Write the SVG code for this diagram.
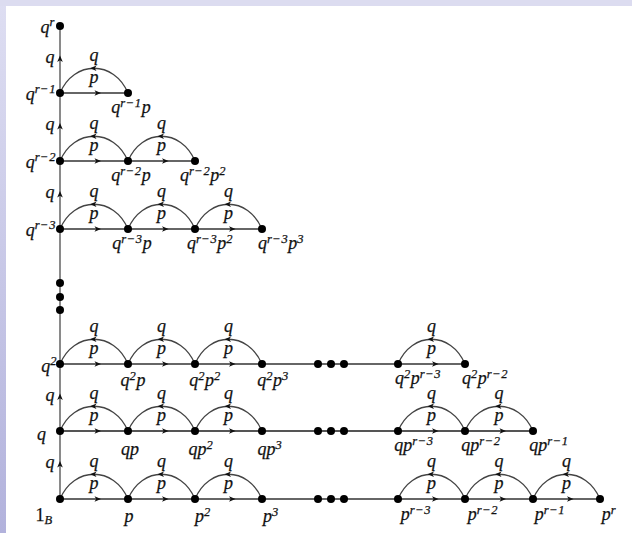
<svg xmlns="http://www.w3.org/2000/svg" width="632" height="533" viewBox="0 0 632 533">
  <defs>
    <linearGradient id="frame" x1="0" y1="0" x2="0" y2="1">
      <stop offset="0" stop-color="#dedef2"/>
      <stop offset="1" stop-color="#b2b2dc"/>
    </linearGradient>
    <!-- small filled arrow head, tip at origin, pointing along +x -->
    <path id="ah" d="M0,0 L-6.5,-2.8 L-4.8,0 L-6.5,2.8 Z" fill="#111"/>
    <style>
      .m { font-family: "Liberation Serif", "DejaVu Serif", serif; font-style: italic; font-size: 18px; fill: #111; stroke: #111; stroke-width: 0.25; }
      .up { font-style: normal; }
      .s { font-size: 12.5px; letter-spacing: 0.6px; }
      .vert { stroke: #8a8a8a; stroke-width: 2; fill: none; }
      .row { stroke: #333; stroke-width: 1.5; fill: none; }
      .row.thick { stroke: #555; stroke-width: 2.2; }
      .row.grey { stroke: #666; stroke-width: 1.9; }
      .arc { stroke: #444; stroke-width: 1.3; fill: none; }
      .dot { fill: #000; }
    </style>
  </defs>

  <!-- page frame -->
  <rect x="0" y="0" width="632" height="533" fill="url(#frame)"/>
  <rect x="0" y="0" width="632" height="6" fill="#dcdcf0"/>
  <rect x="6" y="6" width="626" height="527" fill="#fff"/>

  <g id="connectors">
    <!-- vertical q-axis -->
    <path class="vert" d="M60,26 V499"/>
    <use href="#ah" transform="translate(60,55.5) rotate(-90)"/>
    <use href="#ah" transform="translate(60,123) rotate(-90)"/>
    <use href="#ah" transform="translate(60,191) rotate(-90)"/>
    <use href="#ah" transform="translate(60,393.5) rotate(-90)"/>
    <use href="#ah" transform="translate(60,461) rotate(-90)"/>

    <!-- row q^{r-1} -->
    <path class="row grey" d="M60,93 H128"/>
    <path class="arc" d="M60,93 C74,60 114,60 128,93"/>
    <use href="#ah" transform="translate(101,93)"/>
    <use href="#ah" transform="translate(90,68.2) rotate(180)"/>

    <!-- row q^{r-2} -->
    <path class="row" d="M60,161 H195"/>
    <path class="arc" d="M60,161 C74,128 114,128 128,161 M128,161 C142,128 181,128 195,161"/>
    <use href="#ah" transform="translate(101,161)"/>
    <use href="#ah" transform="translate(168.5,161)"/>
    <use href="#ah" transform="translate(90,136.2) rotate(180)"/>
    <use href="#ah" transform="translate(157.5,136.2) rotate(180)"/>

    <!-- row q^{r-3} -->
    <path class="row" d="M60,229 H262"/>
    <path class="arc" d="M60,229 C74,196 114,196 128,229 M128,229 C142,196 181,196 195,229 M195,229 C209,196 248,196 262,229"/>
    <use href="#ah" transform="translate(101,229)"/>
    <use href="#ah" transform="translate(168.5,229)"/>
    <use href="#ah" transform="translate(235.5,229)"/>
    <use href="#ah" transform="translate(90,204.2) rotate(180)"/>
    <use href="#ah" transform="translate(157.5,204.2) rotate(180)"/>
    <use href="#ah" transform="translate(224.5,204.2) rotate(180)"/>

    <!-- row q^2 -->
    <path class="row" d="M60,364 H465"/>
    <path class="arc" d="M60,364 C74,331 114,331 128,364 M128,364 C142,331 181,331 195,364 M195,364 C209,331 248,331 262,364 M398,364 C412,331 451,331 465,364"/>
    <use href="#ah" transform="translate(101,364)"/>
    <use href="#ah" transform="translate(168.5,364)"/>
    <use href="#ah" transform="translate(235.5,364)"/>
    <use href="#ah" transform="translate(438.5,364)"/>
    <use href="#ah" transform="translate(90,339.2) rotate(180)"/>
    <use href="#ah" transform="translate(157.5,339.2) rotate(180)"/>
    <use href="#ah" transform="translate(224.5,339.2) rotate(180)"/>
    <use href="#ah" transform="translate(427.5,339.2) rotate(180)"/>

    <!-- row q -->
    <path class="row thick" d="M60,431 H533"/>
    <path class="arc" d="M60,431 C74,398 114,398 128,431 M128,431 C142,398 181,398 195,431 M195,431 C209,398 248,398 262,431 M398,431 C412,398 451,398 465,431 M465,431 C479,398 519,398 533,431"/>
    <use href="#ah" transform="translate(101,431)"/>
    <use href="#ah" transform="translate(168.5,431)"/>
    <use href="#ah" transform="translate(235.5,431)"/>
    <use href="#ah" transform="translate(438.5,431)"/>
    <use href="#ah" transform="translate(506,431)"/>
    <use href="#ah" transform="translate(90,406.2) rotate(180)"/>
    <use href="#ah" transform="translate(157.5,406.2) rotate(180)"/>
    <use href="#ah" transform="translate(224.5,406.2) rotate(180)"/>
    <use href="#ah" transform="translate(427.5,406.2) rotate(180)"/>
    <use href="#ah" transform="translate(495,406.2) rotate(180)"/>

    <!-- row 1_B -->
    <path class="row" d="M60,499 H600"/>
    <path class="arc" d="M60,499 C74,466 114,466 128,499 M128,499 C142,466 181,466 195,499 M195,499 C209,466 248,466 262,499 M398,499 C412,466 451,466 465,499 M465,499 C479,466 519,466 533,499 M533,499 C547,466 586,466 600,499"/>
    <use href="#ah" transform="translate(101,499)"/>
    <use href="#ah" transform="translate(168.5,499)"/>
    <use href="#ah" transform="translate(235.5,499)"/>
    <use href="#ah" transform="translate(438.5,499)"/>
    <use href="#ah" transform="translate(506,499)"/>
    <use href="#ah" transform="translate(573.5,499)"/>
    <use href="#ah" transform="translate(90,474.2) rotate(180)"/>
    <use href="#ah" transform="translate(157.5,474.2) rotate(180)"/>
    <use href="#ah" transform="translate(224.5,474.2) rotate(180)"/>
    <use href="#ah" transform="translate(427.5,474.2) rotate(180)"/>
    <use href="#ah" transform="translate(495,474.2) rotate(180)"/>
    <use href="#ah" transform="translate(562.5,474.2) rotate(180)"/>
  </g>

  <!-- edge labels: q on the vertical axis and on each arc, p on each straight edge -->
  <g id="edge-labels" class="m" text-anchor="middle">
    <text x="50" y="63">q</text>
    <text x="50" y="130">q</text>
    <text x="50" y="198">q</text>
    <text x="50" y="401">q</text>
    <text x="50" y="468">q</text>

    <text x="94" y="61">q</text><text x="94" y="83">p</text>

    <text x="94" y="129">q</text><text x="94" y="151">p</text>
    <text x="161.5" y="129">q</text><text x="161.5" y="151">p</text>

    <text x="94" y="197">q</text><text x="94" y="219">p</text>
    <text x="161.5" y="197">q</text><text x="161.5" y="219">p</text>
    <text x="228.5" y="197">q</text><text x="228.5" y="219">p</text>

    <text x="94" y="332">q</text><text x="94" y="354">p</text>
    <text x="161.5" y="332">q</text><text x="161.5" y="354">p</text>
    <text x="228.5" y="332">q</text><text x="228.5" y="354">p</text>
    <text x="431.5" y="332">q</text><text x="431.5" y="354">p</text>

    <text x="94" y="399">q</text><text x="94" y="421">p</text>
    <text x="161.5" y="399">q</text><text x="161.5" y="421">p</text>
    <text x="228.5" y="399">q</text><text x="228.5" y="421">p</text>
    <text x="431.5" y="399">q</text><text x="431.5" y="421">p</text>
    <text x="499" y="399">q</text><text x="499" y="421">p</text>

    <text x="94" y="467">q</text><text x="94" y="489">p</text>
    <text x="161.5" y="467">q</text><text x="161.5" y="489">p</text>
    <text x="228.5" y="467">q</text><text x="228.5" y="489">p</text>
    <text x="431.5" y="467">q</text><text x="431.5" y="489">p</text>
    <text x="499" y="467">q</text><text x="499" y="489">p</text>
    <text x="566.5" y="467">q</text><text x="566.5" y="489">p</text>
  </g>

  <!-- ellipsis dots on the axis and on the lower rows -->
  <g id="ellipses" class="dot">
    <circle cx="60" cy="283" r="4"/>
    <circle cx="60" cy="297" r="4"/>
    <circle cx="60" cy="310" r="4"/>
    <circle cx="318" cy="364" r="4"/><circle cx="331" cy="364" r="4"/><circle cx="344" cy="364" r="4"/>
    <circle cx="318" cy="431" r="4"/><circle cx="331" cy="431" r="4"/><circle cx="344" cy="431" r="4"/>
    <circle cx="318" cy="499" r="4"/><circle cx="331" cy="499" r="4"/><circle cx="344" cy="499" r="4"/>
  </g>

  <!-- left column: q^r down to 1_B -->
  <g id="n-qr"><circle class="dot" cx="60" cy="26" r="4"/>
    <text class="m" x="55" y="33" text-anchor="end">q<tspan class="s" dy="-7">r</tspan></text></g>
  <g id="n-qr1"><circle class="dot" cx="60" cy="93" r="4"/>
    <text class="m" x="56" y="100" text-anchor="end">q<tspan class="s" dy="-7">r−1</tspan></text></g>
  <g id="n-qr2"><circle class="dot" cx="60" cy="161" r="4"/>
    <text class="m" x="56" y="168" text-anchor="end">q<tspan class="s" dy="-7">r−2</tspan></text></g>
  <g id="n-qr3"><circle class="dot" cx="60" cy="229" r="4"/>
    <text class="m" x="56" y="236" text-anchor="end">q<tspan class="s" dy="-7">r−3</tspan></text></g>
  <g id="n-q2"><circle class="dot" cx="60" cy="364" r="4"/>
    <text class="m" x="57" y="372" text-anchor="end">q<tspan class="s" dy="-7">2</tspan></text></g>
  <g id="n-q"><circle class="dot" cx="60" cy="431" r="4"/>
    <text class="m" x="46" y="440" text-anchor="end">q</text></g>
  <g id="n-1"><circle class="dot" cx="60" cy="499" r="4"/>
    <text class="m up" x="44" y="521" text-anchor="middle">1<tspan class="s" font-style="italic" dy="3">B</tspan></text></g>

  <!-- row q^{r-1} -->
  <g id="n-qr1p"><circle class="dot" cx="128" cy="93" r="4"/>
    <text class="m" x="131" y="113" text-anchor="middle">q<tspan class="s" dy="-6">r−1</tspan><tspan dy="6">p</tspan></text></g>

  <!-- row q^{r-2} -->
  <g id="n-qr2p"><circle class="dot" cx="128" cy="161" r="4"/>
    <text class="m" x="131" y="181" text-anchor="middle">q<tspan class="s" dy="-6">r−2</tspan><tspan dy="6">p</tspan></text></g>
  <g id="n-qr2p2"><circle class="dot" cx="195" cy="161" r="4"/>
    <text class="m" x="203" y="181" text-anchor="middle">q<tspan class="s" dy="-6">r−2</tspan><tspan dy="6">p</tspan><tspan class="s" dy="-6">2</tspan></text></g>

  <!-- row q^{r-3} -->
  <g id="n-qr3p"><circle class="dot" cx="128" cy="229" r="4"/>
    <text class="m" x="132" y="249" text-anchor="middle">q<tspan class="s" dy="-6">r−3</tspan><tspan dy="6">p</tspan></text></g>
  <g id="n-qr3p2"><circle class="dot" cx="195" cy="229" r="4"/>
    <text class="m" x="210" y="249" text-anchor="middle">q<tspan class="s" dy="-6">r−3</tspan><tspan dy="6">p</tspan><tspan class="s" dy="-6">2</tspan></text></g>
  <g id="n-qr3p3"><circle class="dot" cx="262" cy="229" r="4"/>
    <text class="m" x="281" y="249" text-anchor="middle">q<tspan class="s" dy="-6">r−3</tspan><tspan dy="6">p</tspan><tspan class="s" dy="-6">3</tspan></text></g>

  <!-- row q^2 -->
  <g id="n-q2p"><circle class="dot" cx="128" cy="364" r="4"/>
    <text class="m" x="133" y="386" text-anchor="middle">q<tspan class="s" dy="-6">2</tspan><tspan dy="6">p</tspan></text></g>
  <g id="n-q2p2"><circle class="dot" cx="195" cy="364" r="4"/>
    <text class="m" x="205" y="386" text-anchor="middle">q<tspan class="s" dy="-6">2</tspan><tspan dy="6">p</tspan><tspan class="s" dy="-6">2</tspan></text></g>
  <g id="n-q2p3"><circle class="dot" cx="262" cy="364" r="4"/>
    <text class="m" x="273" y="386" text-anchor="middle">q<tspan class="s" dy="-6">2</tspan><tspan dy="6">p</tspan><tspan class="s" dy="-6">3</tspan></text></g>
  <g id="n-q2pr3"><circle class="dot" cx="398" cy="364" r="4"/>
    <text class="m" x="418" y="384" text-anchor="middle">q<tspan class="s" dy="-6">2</tspan><tspan dy="6">p</tspan><tspan class="s" dy="-6">r−3</tspan></text></g>
  <g id="n-q2pr2"><circle class="dot" cx="465" cy="364" r="4"/>
    <text class="m" x="485" y="384" text-anchor="middle">q<tspan class="s" dy="-6">2</tspan><tspan dy="6">p</tspan><tspan class="s" dy="-6">r−2</tspan></text></g>

  <!-- row q -->
  <g id="n-qp"><circle class="dot" cx="128" cy="431" r="4"/>
    <text class="m" x="130" y="455" text-anchor="middle">qp</text></g>
  <g id="n-qp2"><circle class="dot" cx="195" cy="431" r="4"/>
    <text class="m" x="201" y="455" text-anchor="middle">qp<tspan class="s" dy="-6">2</tspan></text></g>
  <g id="n-qp3"><circle class="dot" cx="262" cy="431" r="4"/>
    <text class="m" x="270" y="455" text-anchor="middle">qp<tspan class="s" dy="-6">3</tspan></text></g>
  <g id="n-qpr3"><circle class="dot" cx="398" cy="431" r="4"/>
    <text class="m" x="414" y="451" text-anchor="middle">qp<tspan class="s" dy="-6">r−3</tspan></text></g>
  <g id="n-qpr2"><circle class="dot" cx="465" cy="431" r="4"/>
    <text class="m" x="481" y="451" text-anchor="middle">qp<tspan class="s" dy="-6">r−2</tspan></text></g>
  <g id="n-qpr1"><circle class="dot" cx="533" cy="431" r="4"/>
    <text class="m" x="549" y="451" text-anchor="middle">qp<tspan class="s" dy="-6">r−1</tspan></text></g>

  <!-- row 1_B -->
  <g id="n-p"><circle class="dot" cx="128" cy="499" r="4"/>
    <text class="m" x="129" y="522" text-anchor="middle">p</text></g>
  <g id="n-p2"><circle class="dot" cx="195" cy="499" r="4"/>
    <text class="m" x="203" y="522" text-anchor="middle">p<tspan class="s" dy="-6">2</tspan></text></g>
  <g id="n-p3"><circle class="dot" cx="262" cy="499" r="4"/>
    <text class="m" x="271" y="522" text-anchor="middle">p<tspan class="s" dy="-6">3</tspan></text></g>
  <g id="n-pr3"><circle class="dot" cx="398" cy="499" r="4"/>
    <text class="m" x="416" y="520" text-anchor="middle">p<tspan class="s" dy="-6">r−3</tspan></text></g>
  <g id="n-pr2"><circle class="dot" cx="465" cy="499" r="4"/>
    <text class="m" x="483" y="520" text-anchor="middle">p<tspan class="s" dy="-6">r−2</tspan></text></g>
  <g id="n-pr1"><circle class="dot" cx="533" cy="499" r="4"/>
    <text class="m" x="550" y="520" text-anchor="middle">p<tspan class="s" dy="-6">r−1</tspan></text></g>
  <g id="n-pr"><circle class="dot" cx="600" cy="499" r="4"/>
    <text class="m" x="609" y="520" text-anchor="middle">p<tspan class="s" dy="-6">r</tspan></text></g>
</svg>
